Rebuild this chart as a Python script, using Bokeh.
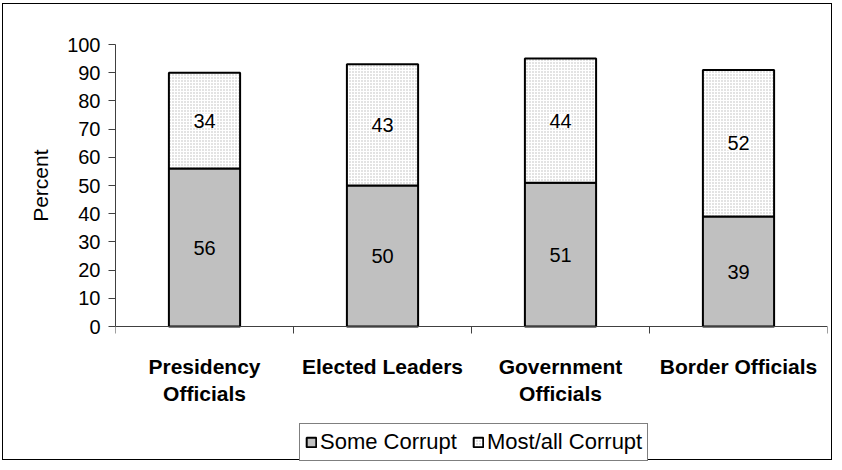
from bokeh.plotting import figure
from bokeh.models import (Range1d, LinearAxis, FixedTicker, ColumnDataSource, LabelSet,
                          Legend, LegendItem, Title)
from bokeh.core.properties import value
from bokeh.embed import file_html
from bokeh.resources import INLINE

# ---- data ----
categories = ["Presidency Officials", "Elected Leaders", "Government Officials", "Border Officials"]
tick_labels = ["Presidency\nOfficials", "Elected Leaders", "Government\nOfficials", "Border Officials"]
some_corrupt = [56, 50, 51, 39]
most_corrupt = [34, 43, 44, 52]
series_names = ["Some Corrupt", "Most/all Corrupt"]
y_ticks = [0, 10, 20, 30, 40, 50, 60, 70, 80, 90, 100]
y_title = "Percent"

FONT = "Liberation Sans"

n = len(categories)
xpos = [i + 0.5 for i in range(n)]
bounds = [i for i in range(n + 1)]
top_total = [a + b for a, b in zip(some_corrupt, most_corrupt)]

src = ColumnDataSource(dict(
    x=xpos,
    some=some_corrupt,
    most=most_corrupt,
    total=top_total,
    zero=[0] * n,
    mid1=[a / 2 for a in some_corrupt],
    mid2=[a + b / 2 for a, b in zip(some_corrupt, most_corrupt)],
    t1=[str(v) for v in some_corrupt],
    t2=[str(v) for v in most_corrupt],
))

# layout (pixels): plot area 282 px tall for 0..100; 135 px of chart below the 0 line
W, H = 830, 457
TOP, LEFT, RIGHT = 40, 112, 6
below_px = 135
y_min = -100.0 * below_px / (H - TOP - below_px)

p = figure(width=W, height=H, x_range=Range1d(0, n), y_range=Range1d(y_min, 100),
           output_backend="svg", toolbar_location=None,
           x_axis_type=None, y_axis_type=None,
           min_border_left=LEFT, min_border_right=RIGHT, min_border_top=TOP, min_border_bottom=0)
p.margin = (3, 0, 0, 2)
p.styles = {"border": "1px solid black"}
p.outline_line_color = None
p.xgrid.visible = False
p.ygrid.visible = False
p.background_fill_color = "white"
p.border_fill_color = "white"

# y axis (only 0..100)
yaxis = LinearAxis(ticker=FixedTicker(ticks=y_ticks, minor_ticks=[]), bounds=(0, 100))
yaxis.axis_line_color = "#404040"
yaxis.major_tick_line_color = "#404040"
yaxis.major_tick_out = 7
yaxis.major_tick_in = 0
yaxis.major_label_standoff = 8
yaxis.major_label_text_font = FONT
yaxis.major_label_text_font_size = "20px"
yaxis.major_label_text_color = "black"
p.add_layout(yaxis, "left")

# y axis title, centred on the 0..100 span
ytitle = Title(text=y_title, align="right", offset=105, vertical_align="bottom",
               standoff=26, text_font=FONT, text_font_size="21px",
               text_font_style="normal", text_color="black")
p.add_layout(ytitle, "left")

# x axis at y=0: labels at category centres, tick marks at category boundaries
xaxis = LinearAxis(ticker=FixedTicker(ticks=xpos, minor_ticks=bounds), fixed_location=0)
xaxis.major_label_overrides = {xv: lab for xv, lab in zip(xpos, tick_labels)}
xaxis.axis_line_color = "#404040"
xaxis.major_tick_line_color = None
xaxis.major_tick_out = 0
xaxis.major_tick_in = 0
xaxis.minor_tick_line_color = "#404040"
xaxis.minor_tick_out = 7
xaxis.minor_tick_in = 0
xaxis.major_label_standoff = 21
xaxis.major_label_text_font = FONT
xaxis.major_label_text_font_size = "21px"
xaxis.major_label_text_font_style = "bold"
xaxis.major_label_text_color = "black"
p.add_layout(xaxis, "below")

# bars
r1 = p.vbar(x="x", bottom="zero", top="some", width=0.4, source=src,
            fill_color="#c0c0c0", line_color="black", line_width=2)
r2 = p.vbar(x="x", bottom="some", top="total", width=0.4, source=src,
            fill_color="white", hatch_pattern=".", hatch_scale=3, hatch_weight=1,
            hatch_color="#b8b8b8", line_color="black", line_width=2)

# data labels
lab1 = LabelSet(x="x", y="mid1", text="t1", source=src, text_align="center",
                text_baseline="middle", text_font=value(FONT), text_font_size="20px",
                text_color="black")
lab2 = LabelSet(x="x", y="mid2", text="t2", source=src, text_align="center",
                text_baseline="middle", text_font=value(FONT), text_font_size="20px",
                text_color="black", background_fill_color="white")
p.add_layout(lab1)
p.add_layout(lab2)

# legend (bottom-left corner given relative to the plot area's bottom-left)
legend = Legend(items=[LegendItem(label=series_names[0], renderers=[r1]),
                       LegendItem(label=series_names[1], renderers=[r2])],
                orientation="horizontal", location=(184, 0))
legend.label_text_font = FONT
legend.label_text_font_size = "22px"
legend.label_text_color = "black"
legend.glyph_width = 12
legend.glyph_height = 12
legend.label_standoff = 3
legend.spacing = 15
legend.padding = 5
legend.margin = 0
legend.border_line_color = "black"
legend.border_line_width = 1
legend.background_fill_color = "white"
legend.background_fill_alpha = 1
p.add_layout(legend)

open("out.html", "w").write(file_html(p, INLINE))
